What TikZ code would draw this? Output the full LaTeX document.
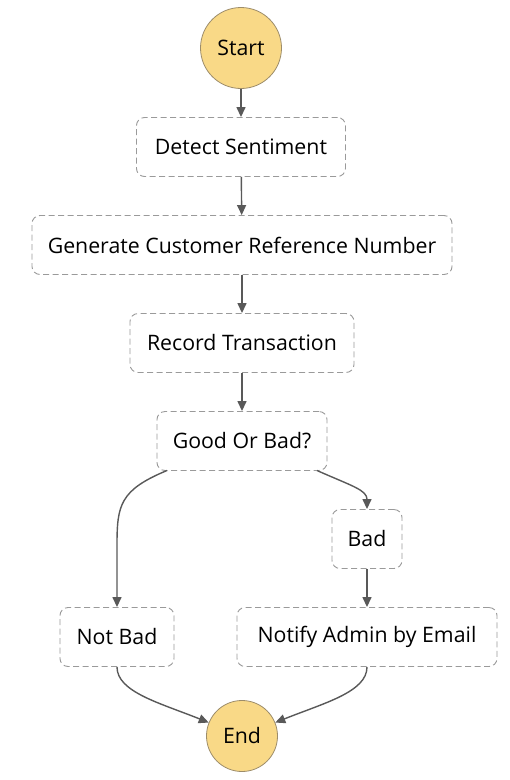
\documentclass[tikz,border=0pt]{standalone}
\usepackage{fontspec}
\setmainfont{Open Sans}
\usetikzlibrary{arrows.meta}
\definecolor{circfill}{HTML}{F9D987}
\definecolor{circline}{HTML}{9C8C6A}
\definecolor{boxline}{HTML}{9A9A9A}
\definecolor{arrowc}{HTML}{595959}
\tikzset{
  statebox/.style={draw=boxline, line width=0.9pt, dash pattern=on 6pt off 3.5pt, rounded corners=8pt, fill=white, inner sep=0pt, font=\fontsize{21.3}{23}\selectfont},
  termcircle/.style={circle, draw=circline, line width=0.8pt, fill=circfill, inner sep=0pt, font=\fontsize{21.3}{23}\selectfont},
  flow/.style={draw=arrowc, line width=1.4pt, -{Triangle[length=10pt,width=9pt]}},
}
\begin{document}
\begin{tikzpicture}[x=1pt,y=-1pt]
\useasboundingbox (0,0) rectangle (510,780);
\node[termcircle, minimum size=81pt] (start) at (241,48) {Start};
\node[statebox, minimum width=209pt, minimum height=59pt] (detect) at (241,147) {Detect Sentiment};
\node[statebox, minimum width=420pt, minimum height=59pt] (gen) at (242,245) {Generate Customer Reference Number};
\node[statebox, minimum width=224pt, minimum height=59pt] (record) at (242,343) {Record Transaction};
\node[statebox, minimum width=170pt, minimum height=59pt] (good) at (242,441) {Good Or Bad?};
\node[statebox, minimum width=70pt, minimum height=59pt] (bad) at (367,539) {Bad};
\node[statebox, minimum width=114pt, minimum height=59pt] (notbad) at (117,637) {Not Bad};
\node[statebox, minimum width=260pt, minimum height=59pt] (notify) at (367,637) {Notify Admin by Email};
\node[termcircle, minimum size=71pt] (end) at (242,736) {End};

\draw[flow] (start) -- (detect);
\draw[flow] (detect) -- (gen);
\draw[flow] (gen) -- (record);
\draw[flow] (record) -- (good);
\coordinate (g1) at (167,470.5);
\coordinate (g2) at (317,470.5);
\draw[flow] (g1) .. controls (120,490) and (117,505) .. (117,545) -- (notbad.north);
\draw[flow] (g2) .. controls (352,486) and (367,490) .. (bad.north);
\draw[flow] (bad) -- (notify.north -| bad);
\draw[flow] (notbad.south) .. controls (117,692) and (160,703) .. (end.158);
\draw[flow] (notify.south) .. controls (367,692) and (324,703) .. (end.22);
\end{tikzpicture}
\end{document}
